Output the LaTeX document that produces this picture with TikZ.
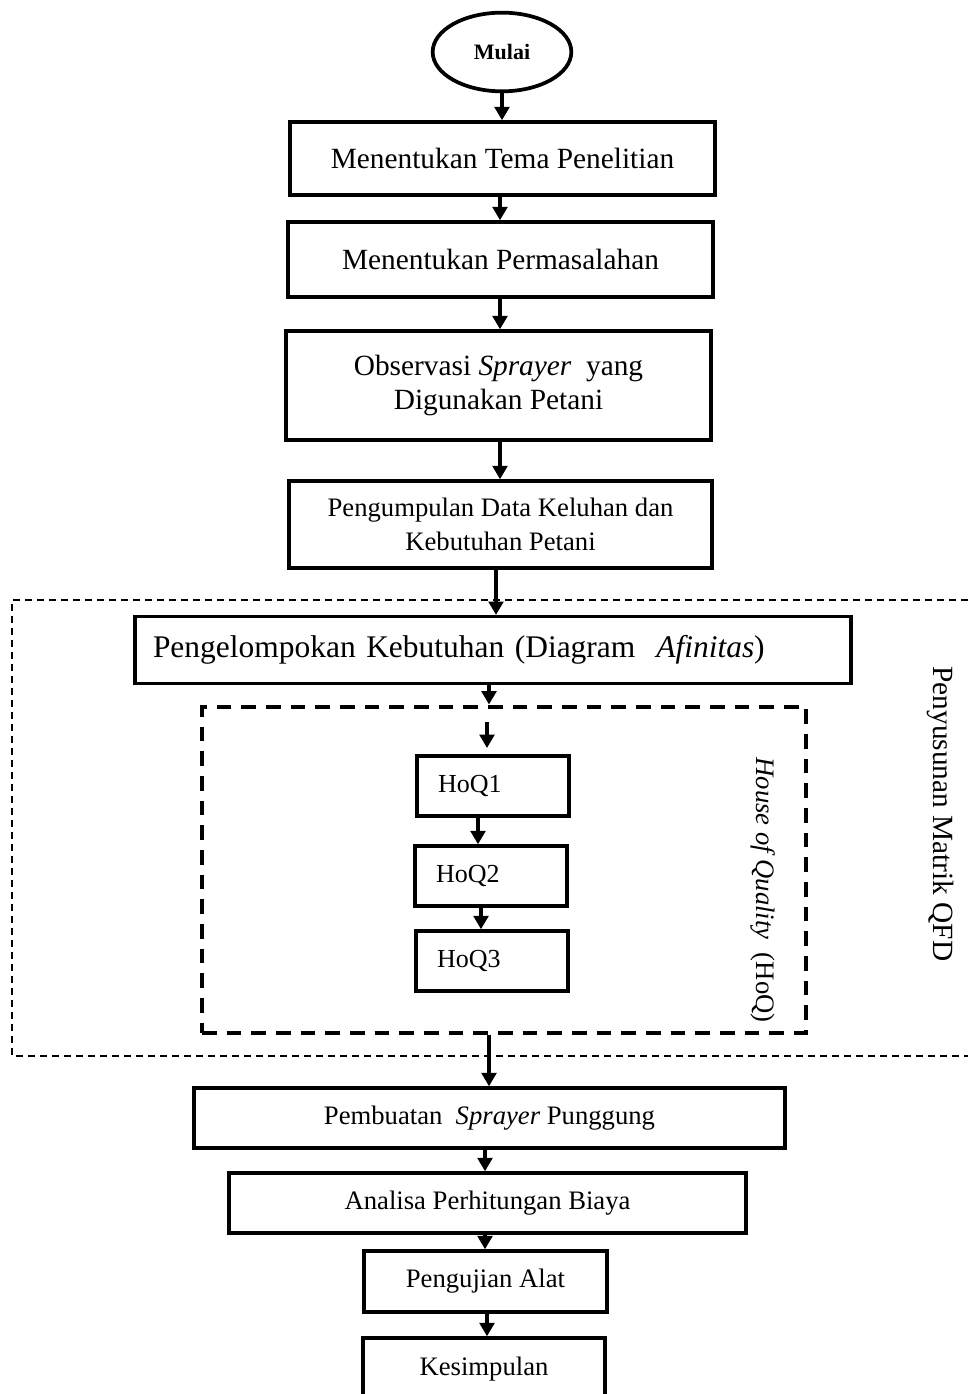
\documentclass[tikz,border=0pt]{standalone}
\usepackage{fontspec}
\setmainfont{Liberation Serif}
\usetikzlibrary{arrows.meta,shapes.geometric}
\begin{document}
\begin{tikzpicture}[x=0.75pt,y=-0.75pt,
  box/.style={draw, line width=2.6pt, inner sep=0pt, align=center},
  lbox/.style={draw, line width=2.6pt, inner ysep=0pt, align=left},
  arr/.style={line width=2.4pt, -{Triangle[width=11pt,length=10pt]}},
  outerdash/.style={line width=1.1pt, dash pattern=on 5.5pt off 3.5pt},
  innerdash/.style={line width=3pt, dash pattern=on 11pt off 7.5pt},
  big/.style={font=\fontsize{22}{26}\selectfont},
  mid/.style={font=\fontsize{20}{25}\selectfont}]
\useasboundingbox (0,0) rectangle (968,1394);

% start
\node[ellipse, draw, line width=2.8pt, minimum width=104pt, minimum height=59pt, inner sep=0pt,
      font=\fontsize{16.5}{19}\selectfont\bfseries] (mulai) at (502,52) {Mulai};

% main boxes
\node[box, big, minimum width=318.75pt, minimum height=54.75pt] (b1) at (502.5,158.5) {Menentukan Tema Penelitian};
\node[box, big, minimum width=318.75pt, minimum height=56.25pt] (b2) at (500.5,259.5) {Menentukan Permasalahan};
\node[box, big, minimum width=318.75pt, minimum height=81.75pt] (b3) at (498.5,385.5) {Observasi \textit{Sprayer}\ \ yang\\Digunakan Petani};
\node[box, mid, minimum width=317.25pt, minimum height=65.25pt] (b4) at (500.5,524.5) {Pengumpulan Data Keluhan dan\\Kebutuhan Petani};

% QFD group
\draw[outerdash] (968,600) -- (12,600) -- (12,1056) -- (968,1056);
\node[lbox, font=\fontsize{23.6}{28}\selectfont, text width=510pt, inner xsep=13.5pt, minimum height=50pt] (b5) at (493,650) {Pengelompokan Kebutuhan (Diagram\ \ \textit{Afinitas})};

\node[draw, innerdash, minimum width=453pt, minimum height=244.5pt, inner sep=0pt] (hoq) at (504,869.5) {};

\node[lbox, font=\fontsize{19.5}{22}\selectfont, text width=82.5pt, inner xsep=15.75pt, minimum height=45pt] (h1) at (493,786) {HoQ1};
\node[lbox, font=\fontsize{19.5}{22}\selectfont, text width=82.5pt, inner xsep=15.75pt, minimum height=45pt] (h2) at (491,876) {HoQ2};
\node[lbox, font=\fontsize{19.5}{22}\selectfont, text width=82.5pt, inner xsep=15.75pt, minimum height=45pt] (h3) at (492,961) {HoQ3};

\node[rotate=-90, font=\fontsize{20}{24}\selectfont] (hoqlabel) at (763,890) {\textit{House of Quality}\ \ (HoQ)};
\node[rotate=-90, font=\fontsize{22}{26}\selectfont] (qfdlabel) at (940,814) {Penyusunan Matrik QFD};

% lower boxes
\node[box, mid, minimum width=443.25pt, minimum height=45pt] (b6) at (489.5,1118) {Pembuatan\ \ \textit{Sprayer} Punggung};
\node[box, mid, minimum width=387.75pt, minimum height=45pt] (b7) at (487.5,1203) {Analisa Perhitungan Biaya};
\node[box, mid, minimum width=182.25pt, minimum height=45.75pt] (b8) at (485.5,1281.5) {Pengujian Alat};
\node[box, mid, minimum width=181.5pt, minimum height=46.5pt] (b9) at (484,1369) {Kesimpulan};

% connectors
\coordinate (in1) at (487,722);
\coordinate (in2) at (487,748);
\draw[arr] (mulai.south) -- (b1.north -| mulai.south);
\draw[arr] (b1.south -| 500,0) -- (b2.north -| 500,0);
\draw[arr] (b2.south -| 500,0) -- (b3.north -| 500,0);
\draw[arr] (b3.south -| 500,0) -- (b4.north -| 500,0);
\draw[arr] (b4.south -| 496,0) -- (b5.north -| 496,0);
\draw[arr] (b5.south -| 489,0) -- (hoq.north -| 489,0);
\draw[arr] (in1) -- (in2);
\draw[arr] (h1.south -| 478,0) -- (h2.north -| 478,0);
\draw[arr] (h2.south -| 481,0) -- (h3.north -| 481,0);
\draw[arr] (hoq.south -| 489,0) -- (b6.north -| 489,0);
\draw[arr] (b6.south -| 485,0) -- (b7.north -| 485,0);
\draw[arr] (b7.south -| 485,0) -- (b8.north -| 485,0);
\draw[arr] (b8.south -| 487,0) -- (b9.north -| 487,0);
\end{tikzpicture}
\end{document}
